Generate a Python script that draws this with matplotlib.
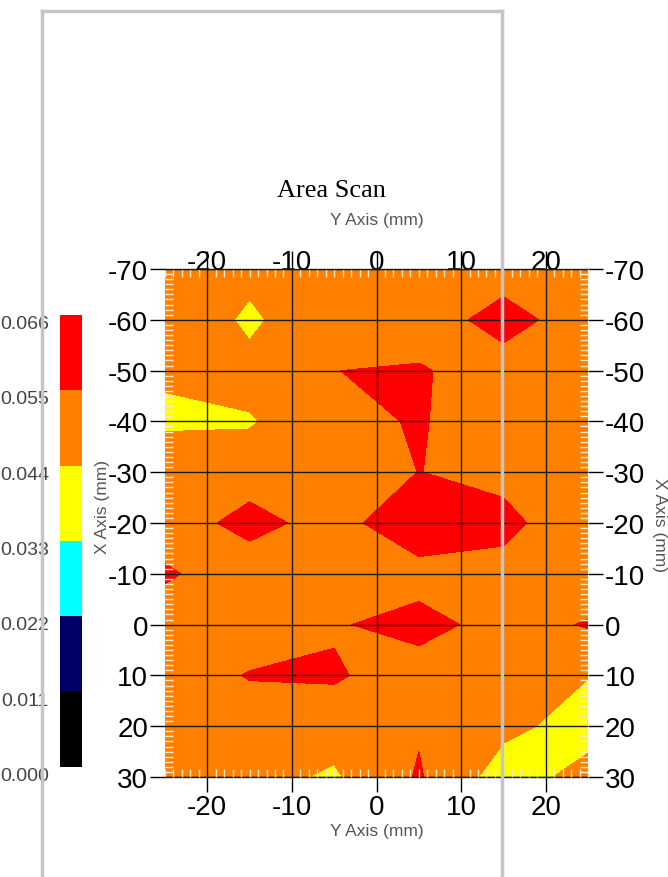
import numpy as np
import matplotlib
matplotlib.use("Agg")
import matplotlib.pyplot as plt
from matplotlib.colors import ListedColormap, BoundaryNorm
from matplotlib.cm import ScalarMappable
from matplotlib.lines import Line2D
from matplotlib.ticker import MultipleLocator

plt.rcParams['font.family'] = ['Liberation Sans', 'DejaVu Sans']
plt.rcParams['axes.unicode_minus'] = False

# ---- data ----
y_mm = [-25, -15, -5, 5, 15, 25]                 # horizontal axis ("Y Axis")
x_mm = [-70, -60, -50, -40, -30, -20, -10, 0, 10, 20, 30]   # vertical axis ("X Axis")
values = [
    [0.050, 0.047, 0.050, 0.050, 0.049, 0.050],
    [0.053, 0.042, 0.053, 0.048, 0.060, 0.048],
    [0.0455, 0.047, 0.0549, 0.0562, 0.049, 0.050],
    [0.042, 0.0433, 0.050, 0.0564, 0.045, 0.050],
    [0.052, 0.048, 0.050, 0.0551, 0.0531, 0.050],
    [0.047, 0.060, 0.0489, 0.0667, 0.0569, 0.050],
    [0.057, 0.046, 0.050, 0.049, 0.0527, 0.046],
    [0.047, 0.047, 0.0537, 0.060, 0.0496, 0.056],
    [0.0475, 0.0558, 0.0565, 0.048, 0.048, 0.0443],
    [0.050, 0.048, 0.0479, 0.054, 0.0465, 0.040],
    [0.050, 0.047, 0.0427, 0.056, 0.039, 0.0475],
]
levels = [0.000, 0.011, 0.022, 0.033, 0.044, 0.055, 0.066]
level_colors = ['#000000', '#000066', '#00FFFF', '#FFFF00', '#FF8000', '#FF0000']
y_ticks = [-20, -10, 0, 10, 20]
x_ticks = [-70, -60, -50, -40, -30, -20, -10, 0, 10, 20, 30]

W, H = 668, 878
fig = plt.figure(figsize=(W / 100, H / 100), dpi=100)

ax = fig.add_axes([165 / W, 100 / H, 423 / W, 508 / H])
Z = np.array(values)
fill_levels = levels[:-1] + [1.0]
ax.contourf(y_mm, x_mm, Z, levels=fill_levels, colors=level_colors)
ax.set_xlim(-25, 25)
ax.set_ylim(30, -70)
ax.set_xticks(y_ticks)
ax.set_yticks(x_ticks)
ax.xaxis.set_minor_locator(MultipleLocator(1))
ax.yaxis.set_minor_locator(MultipleLocator(1))
ax.grid(True, which='major', color='#1a1a1a', lw=1)
ax.set_axisbelow(False)
ax.tick_params(which='major', direction='out', length=11, width=1, color='black',
               labelsize=20, pad=1)
ax.tick_params(which='minor', direction='in', length=6, width=1, color='#ffe8c8',
               top=True, right=True, bottom=True, left=True)
for s in ['left', 'right']:
    ax.spines[s].set_visible(False)
for s in ['top', 'bottom']:
    ax.spines[s].set_color('#1a1a1a')
    ax.spines[s].set_linewidth(1)

# top axis
sx = ax.secondary_xaxis('top')
sx.set_xticks(y_ticks)
sx.tick_params(direction='out', length=13, width=1, color='black', labelsize=20, pad=-17)
sx.spines['top'].set_visible(False)
# right axis
sy = ax.secondary_yaxis('right')
sy.set_yticks(x_ticks)
sy.tick_params(direction='out', length=11, width=1, color='black', labelsize=20, pad=1)
sy.spines['right'].set_visible(False)

# colorbar
cax = fig.add_axes([60 / W, 110 / H, 22 / W, 452 / H])
cmap = ListedColormap(level_colors)
norm = BoundaryNorm(levels, cmap.N)
cb = fig.colorbar(ScalarMappable(norm=norm, cmap=cmap), cax=cax, ticks=levels)
cb.outline.set_visible(False)
cax.yaxis.set_ticks_position('left')
cax.tick_params(length=0, pad=8, labelsize=14, labelcolor='#444444')
cax.set_yticklabels([f'{v:.3f}' for v in levels])
for lbl in cax.get_yticklabels():
    lbl.set_va('top')

# texts
fig.text(331 / W, 1 - 191 / H, 'Area Scan', family='Liberation Serif', fontsize=19,
         ha='center', va='center', color='black')
fig.text(377 / W, 1 - 221 / H, 'Y Axis (mm)', fontsize=12.5, color='#555555',
         ha='center', va='center')
fig.text(377 / W, 1 - 832 / H, 'Y Axis (mm)', fontsize=12.5, color='#555555',
         ha='center', va='center')
fig.text(103 / W, 1 - 507 / H, 'X Axis (mm)', fontsize=12.5, color='#555555',
         ha='center', va='center', rotation=90)
fig.text(659 / W, 1 - 525 / H, 'X Axis (mm)', fontsize=12.5, color='#555555',
         ha='center', va='center', rotation=270)

# gray frame overlay
fc = '#c4c4cc'
for xs, ys in [([42, 42], [12, 878]), ([502, 502], [12, 878]), ([42, 502], [12, 12])]:
    fig.add_artist(Line2D([v / W for v in xs], [1 - v / H for v in ys],
                          transform=fig.transFigure, color=fc, lw=2.5, zorder=20))

fig.savefig('out.png', dpi=100)
